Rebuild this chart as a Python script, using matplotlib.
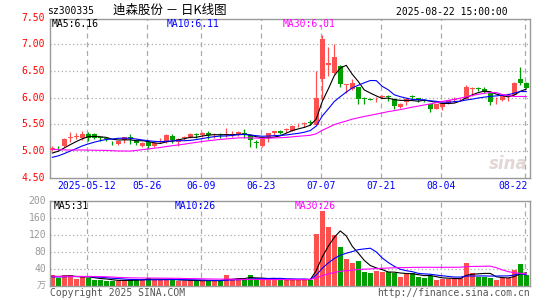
import numpy as np
import pandas as pd
import matplotlib
matplotlib.use('Agg')
import matplotlib.pyplot as plt
from matplotlib.transforms import blended_transform_factory

# ---------------- data ----------------
holidays = ['2025-05-01', '2025-05-02', '2025-05-05', '2025-06-02']
dates = [d for d in pd.bdate_range('2025-04-29', '2025-08-22') if d.strftime('%Y-%m-%d') not in holidays]

opens = [5.02, 5.06, 5.10, 5.25, 5.26, 5.25, 5.31, 5.31, 5.25, 5.24,
         5.15, 5.13, 5.20, 5.25, 5.19, 5.10, 5.16, 5.10, 5.16, 5.17,
         5.28, 5.17, 5.24, 5.27, 5.31, 5.29, 5.33, 5.29, 5.31, 5.29,
         5.29, 5.30, 5.34, 5.30, 5.16, 5.10, 5.26, 5.34, 5.38, 5.39,
         5.38, 5.48, 5.51, 5.54, 5.49, 6.35, 6.62, 6.47, 6.59, 6.24,
         6.17, 6.20, 5.99, 5.97, 5.97, 6.02, 6.02, 5.98, 5.82, 5.92,
         6.02, 5.99, 5.96, 5.88, 5.79, 5.82, 5.89, 5.96, 5.97, 5.98,
         6.16, 6.17, 6.16, 6.08, 5.97, 5.95, 6.03, 6.06, 6.36, 6.27]
highs = [5.10, 5.09, 5.24, 5.35, 5.33, 5.37, 5.35, 5.34, 5.28, 5.27,
         5.18, 5.19, 5.27, 5.31, 5.22, 5.16, 5.21, 5.16, 5.24, 5.32,
         5.32, 5.25, 5.28, 5.33, 5.33, 5.36, 5.37, 5.33, 5.33, 5.43,
         5.37, 5.37, 5.41, 5.31, 5.21, 5.24, 5.34, 5.38, 5.39, 5.43,
         5.48, 5.52, 5.55, 5.58, 6.50, 7.18, 6.95, 7.00, 6.62, 6.26,
         6.36, 6.21, 6.02, 5.99, 6.02, 6.06, 6.05, 5.99, 5.90, 5.99,
         6.05, 6.00, 5.98, 5.89, 5.89, 5.91, 5.96, 6.01, 6.00, 6.24,
         6.20, 6.20, 6.20, 6.09, 6.02, 6.05, 6.08, 6.29, 6.58, 6.30]
lows = [5.00, 5.01, 5.08, 5.17, 5.22, 5.21, 5.19, 5.22, 5.19, 5.18,
        5.11, 5.12, 5.15, 5.13, 5.12, 5.08, 5.04, 5.07, 5.14, 5.14,
        5.14, 5.10, 5.20, 5.24, 5.25, 5.27, 5.22, 5.25, 5.25, 5.27,
        5.26, 5.28, 5.24, 5.07, 5.05, 5.08, 5.16, 5.30, 5.32, 5.36,
        5.37, 5.45, 5.45, 5.48, 5.48, 5.96, 6.40, 6.45, 6.20, 6.08,
        6.15, 5.89, 5.89, 5.95, 5.92, 6.00, 5.93, 5.79, 5.81, 5.86,
        5.95, 5.92, 5.91, 5.74, 5.78, 5.76, 5.88, 5.92, 5.95, 5.98,
        6.04, 6.12, 6.09, 5.87, 5.88, 5.94, 5.94, 6.05, 6.23, 6.18]
closes = [5.05, 5.05, 5.23, 5.27, 5.28, 5.31, 5.25, 5.25, 5.24, 5.22,
          5.14, 5.18, 5.26, 5.24, 5.14, 5.14, 5.10, 5.14, 5.18, 5.29,
          5.21, 5.22, 5.25, 5.31, 5.29, 5.33, 5.30, 5.30, 5.29, 5.31,
          5.31, 5.35, 5.31, 5.21, 5.15, 5.23, 5.33, 5.38, 5.33, 5.40,
          5.47, 5.49, 5.52, 5.53, 6.00, 7.11, 6.66, 6.77, 6.25, 6.25,
          6.27, 5.98, 5.98, 5.96, 5.98, 6.03, 6.01, 5.84, 5.89, 5.98,
          6.01, 5.95, 5.94, 5.79, 5.88, 5.90, 5.95, 5.97, 5.98, 6.20,
          6.17, 6.16, 6.11, 5.92, 5.98, 6.03, 6.04, 6.28, 6.27, 6.19]
volumes = [25, 20, 25, 25, 17, 21, 20, 15, 15, 12,
           12, 12, 15, 15, 15, 15, 20, 15, 15, 15,
           15, 12, 12, 13, 13, 12, 13, 12, 12, 25,
           17, 20, 13, 25, 20, 15, 15, 15, 15, 15,
           15, 15, 15, 15, 122, 176, 140, 119, 91, 63,
           54, 60, 33, 31, 35, 33, 33, 31, 21, 29,
           31, 21, 20, 23, 15, 17, 17, 17, 20, 54,
           30, 22, 22, 20, 15, 20, 18, 38, 52, 27]
# estimated sessions before the visible window (only feed the moving averages)
prior_closes = [5.28, 5.32, 5.35, 5.30, 5.26, 5.31, 5.34, 5.29, 5.27, 5.30,
                5.33, 5.28, 5.27, 4.80, 4.70, 4.68, 4.75, 4.76, 4.74, 4.77,
                4.78, 4.80, 4.79, 4.82, 4.81, 4.88, 4.92, 4.96, 4.99]
prior_volumes = [28, 25, 22, 20, 24, 21, 19, 23, 26, 30, 35, 32, 27, 24, 22,
                 20, 18, 21, 19, 17, 20, 22, 19, 18, 21, 23, 20, 22, 24]

date_ticks = ['2025-05-12', '2025-05-26', '2025-06-09', '2025-06-23',
              '2025-07-07', '2025-07-21', '2025-08-04', '2025-08-22']
date_tick_labels = ['2025-05-12', '05-26', '06-09', '06-23', '07-07', '07-21', '08-04', '08-22']
price_ticks = [4.50, 5.00, 5.50, 6.00, 6.50, 7.00, 7.50]
vol_ticks = [40, 80, 120, 160, 200]

# ---------------- styling ----------------
RED = '#FF5050'
GREEN = '#009F00'
GRID = '#AAAAAA'
FRAME = '#999999'
MONO = 'DejaVu Sans Mono'
FS = 7

W, H = 545, 300
fig = plt.figure(figsize=(W / 100, H / 100), dpi=100)
fig.patch.set_facecolor('white')


def fx(x):
    return x / W


def fy(y):
    return 1 - y / H


axp = fig.add_axes([fx(50), fy(178), 480 / W, 159 / H])
axv = fig.add_axes([fx(50), fy(286), 480 / W, 85 / H])

n = len(closes)
x = np.arange(n)
o = np.array(opens); h = np.array(highs); l = np.array(lows); c = np.array(closes)
v = np.array(volumes, dtype=float)
up = c >= o
cols = np.where(up, RED, GREEN)

all_c = pd.Series(prior_closes + closes)
all_v = pd.Series(prior_volumes + volumes, dtype=float)
k = len(prior_closes)
ma_p = {m: all_c.rolling(m).mean().values[k:] for m in (5, 10, 30)}
ma_v = {m: all_v.rolling(m).mean().values[k:] for m in (5, 10, 30)}
ma_cols = {5: 'black', 10: '#0000FF', 30: '#FF00FF'}

date_idx = [dates.index(pd.Timestamp(d)) for d in date_ticks]

for ax in (axp, axv):
    ax.set_xlim(-0.38, n - 0.38)
    for s in ax.spines.values():
        s.set_color(FRAME)
        s.set_linewidth(1.0)
    ax.set_xticks([]); ax.set_yticks([])
    for di in date_idx:
        ax.axvline(di - 0.25, color=GRID, lw=0.9, ls=(0, (4, 3)), zorder=0)

# price panel
axp.set_ylim(4.491, 7.479)
for p in price_ticks[1:-1]:
    axp.axhline(p, color=GRID, lw=0.9, ls=(0, (1, 2)), zorder=0)
axp.vlines(x, l, h, colors=cols, lw=0.9, zorder=2)
body_h = np.maximum(np.abs(c - o), 0.014)
axp.bar(x, body_h, bottom=np.minimum(o, c), width=0.8, color=cols, lw=0, zorder=3)
for m in (5, 10, 30):
    axp.plot(x, ma_p[m], color=ma_cols[m], lw=0.8, zorder=4)

# volume panel
axv.set_ylim(0, 200)
for t in vol_ticks[:-1]:
    axv.axhline(t, color=GRID, lw=0.9, ls=(0, (1, 2)), zorder=0)
axv.bar(x, v, width=0.82, color=cols, lw=0, zorder=2)
for m in (5, 10, 30):
    axv.plot(x, ma_v[m], color=ma_cols[m], lw=0.8, zorder=4)

# watermark
axp.text(0.955, 0.09, 'sina', transform=axp.transAxes, fontsize=12, fontweight='bold',
         style='italic', color='#E2D6D6', ha='center', va='center', zorder=1)

# price tick labels
trp = blended_transform_factory(fig.transFigure, axp.transData)
for p in price_ticks:
    fig.text(fx(45), 0, f'{p:.2f}', transform=trp, ha='right', va='center',
             fontsize=FS, family=MONO, color='#FF0000')
    fig.texts[-1].set_position((fx(45), p))

trv = blended_transform_factory(fig.transFigure, axv.transData)
for t in vol_ticks:
    fig.text(fx(46), t, f'{t}', transform=trv, ha='right', va='center',
             fontsize=FS, family=MONO, color='#999999')
fig.text(fx(46), fy(286), '万', ha='right', va='center', fontsize=6.5,
         family=['Noto Sans CJK SC', 'DejaVu Sans'], color='#999999')

# date labels
trd = blended_transform_factory(axp.transData, fig.transFigure)
for j, (di, lab) in enumerate(zip(date_idx, date_tick_labels)):
    if j == len(date_idx) - 1:
        fig.text(di + 0.2, fy(186), lab, transform=trd, ha='right', va='center',
                 fontsize=FS, family=MONO, color='#0000FF')
    else:
        fig.text(di - 0.25, fy(186), lab, transform=trd, ha='center', va='center',
                 fontsize=FS, family=MONO, color='#0000FF')

# header
fig.text(fx(47), fy(11), 'sz300335', ha='left', va='center', fontsize=FS, family=MONO, color='black')
fig.text(fx(170), fy(10), '迪森股份 － 日K线图', ha='center', va='center', fontsize=9,
         family=['Noto Sans CJK SC', 'DejaVu Sans'], color='black')
fig.text(fx(508), fy(12), '2025-08-22 15:00:00', ha='right', va='center', fontsize=FS,
         family=MONO, color='black')

# MA labels
fig.text(fx(52), fy(24), 'MA5:6.16', ha='left', va='center', fontsize=FS, family=MONO, color='black')
fig.text(fx(167), fy(24), 'MA10:6.11', ha='left', va='center', fontsize=FS, family=MONO, color='#0000FF')
fig.text(fx(283), fy(24), 'MA30:6.01', ha='left', va='center', fontsize=FS, family=MONO, color='#FF00FF')
fig.text(fx(54), fy(206), 'MA5:31', ha='left', va='center', fontsize=FS, family=MONO, color='black')
fig.text(fx(175), fy(206), 'MA10:26', ha='left', va='center', fontsize=FS, family=MONO, color='#0000FF')
fig.text(fx(295), fy(206), 'MA30:26', ha='left', va='center', fontsize=FS, family=MONO, color='#FF00FF')

# footer
fig.text(fx(50), fy(293), 'Copyright 2025 SINA.COM', ha='left', va='center', fontsize=FS,
         family=MONO, color='#555555')
fig.text(fx(530), fy(293), 'http://finance.sina.com.cn', ha='right', va='center', fontsize=FS,
         family=MONO, color='#555555')

fig.savefig('out.png', dpi=100, facecolor='white')
